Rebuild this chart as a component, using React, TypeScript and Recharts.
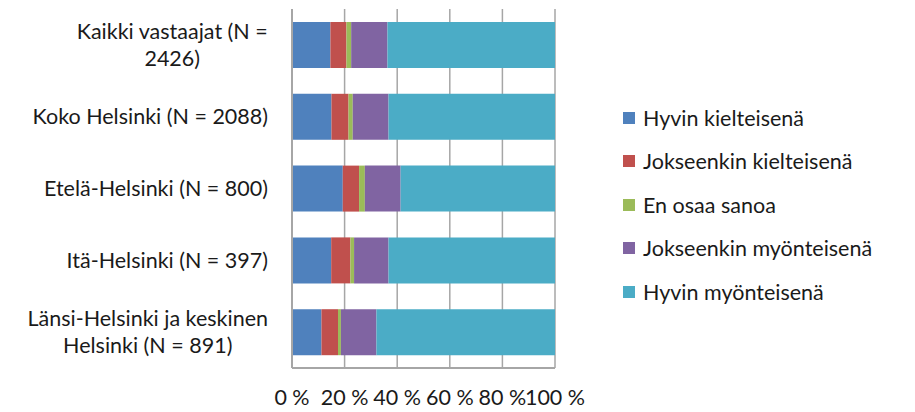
import React from 'react';
import { BarChart, Bar, XAxis, YAxis, CartesianGrid, Legend } from 'recharts';

const categories = [
  'Kaikki vastaajat (N = 2426)',
  'Koko Helsinki (N = 2088)',
  'Etelä-Helsinki (N = 800)',
  'Itä-Helsinki (N = 397)',
  'Länsi-Helsinki ja keskinen Helsinki (N = 891)',
];

const seriesNames = [
  'Hyvin kielteisenä',
  'Jokseenkin kielteisenä',
  'En osaa sanoa',
  'Jokseenkin myönteisenä',
  'Hyvin myönteisenä',
];

const hyvinKielteisena = [14.6, 15.0, 19.3, 14.9, 11.2];
const jokseenkinKielteisena = [6.1, 6.5, 6.2, 7.3, 6.3];
const enOsaaSanoa = [1.8, 1.6, 2.2, 1.4, 1.1];
const jokseenkinMyonteisena = [13.8, 13.6, 13.6, 13.1, 13.5];
const hyvinMyonteisena = [63.7, 63.3, 58.7, 63.3, 67.9];

const xTicks = [0, 0.2, 0.4, 0.6, 0.8, 1];

const colors = ['#4f81bd', '#c0504d', '#9bbb59', '#8064a2', '#4bacc6'];
const keys = ['s1', 's2', 's3', 's4', 's5'];

const data = categories.map((name, i) => ({
  name,
  s1: hyvinKielteisena[i],
  s2: jokseenkinKielteisena[i],
  s3: enOsaaSanoa[i],
  s4: jokseenkinMyonteisena[i],
  s5: hyvinMyonteisena[i],
}));

const FONT = 'Lato, "Open Sans", sans-serif';
const FS = 21.5;
const TEXT = '#1a1a1a';

let ctx: CanvasRenderingContext2D | null = null;
function measure(s: string): number {
  if (!ctx) {
    const c = document.createElement('canvas');
    ctx = c.getContext('2d');
  }
  if (!ctx) return s.length * FS * 0.5;
  ctx.font = `${FS}px ${FONT}`;
  return ctx.measureText(s).width;
}

function wrap(s: string, maxW: number): string[] {
  const words = s.split(' ');
  const lines: string[] = [];
  let cur = '';
  for (const w of words) {
    const t = cur ? cur + ' ' + w : w;
    if (cur && measure(t) > maxW) {
      lines.push(cur);
      cur = w;
    } else cur = t;
  }
  if (cur) lines.push(cur);
  return lines;
}

const YTick = (props: any) => {
  const { x, y, payload } = props;
  const lines = wrap(String(payload.value), 250);
  const widths = lines.map(measure);
  const maxW = Math.max(...widths);
  const cx = x - maxW / 2;
  const lh = 26.7;
  const startY = y - ((lines.length - 1) * lh) / 2;
  return (
    <text textAnchor="middle" fontFamily={FONT} fontSize={FS} fill={TEXT}>
      {lines.map((l, i) => (
        <tspan key={i} x={cx} y={startY + i * lh} dy="0.35em">
          {l}
        </tspan>
      ))}
    </text>
  );
};

const LegendContent = () => (
  <div style={{ fontFamily: FONT, fontSize: FS, color: TEXT }}>
    {seriesNames.map((n, i) => (
      <div key={n} style={{ height: 43.5, display: 'flex', alignItems: 'center', whiteSpace: 'nowrap' }}>
        <span style={{ width: 12, height: 12, background: colors[i], display: 'inline-block', marginRight: 8 }} />
        <span>{n}</span>
      </div>
    ))}
  </div>
);

export default function App() {
  return (
    <div style={{ position: 'absolute', left: 0, top: 0, background: '#fff' }}>
      <BarChart
        width={915}
        height={412}
        data={data}
        layout="vertical"
        stackOffset="expand"
        margin={{ top: 9, right: 360, bottom: 0, left: 0 }}
      >
        <CartesianGrid horizontal={false} stroke="#a6a6a6" strokeWidth={1.5} />
        <XAxis
          type="number"
          domain={[0, 1]}
          ticks={xTicks}
          tickFormatter={(v: number) => `${Math.round(v * 100)} %`}
          height={44}
          axisLine={{ stroke: '#a6a6a6', strokeWidth: 2 }}
          tickLine={false}
          tickSize={0}
          tickMargin={22}
          interval={0}
          tick={{ fontFamily: FONT, fontSize: FS, fill: TEXT }}
        />
        <YAxis
          type="category"
          dataKey="name"
          width={292}
          axisLine={{ stroke: '#a6a6a6', strokeWidth: 2 }}
          tickLine={false}
          tickSize={0}
          tickMargin={24}
          interval={0}
          tick={<YTick />}
        />
        <Legend
          layout="vertical"
          align="center"
          verticalAlign="middle"
          content={<LegendContent />}
          wrapperStyle={{ left: 623, top: 96, width: 290 }}
        />
        {keys.map((k, i) => (
          <Bar
            key={k}
            dataKey={k}
            name={seriesNames[i]}
            stackId="a"
            fill={colors[i]}
            barSize={46}
            isAnimationActive={false}
          />
        ))}
      </BarChart>
    </div>
  );
}
